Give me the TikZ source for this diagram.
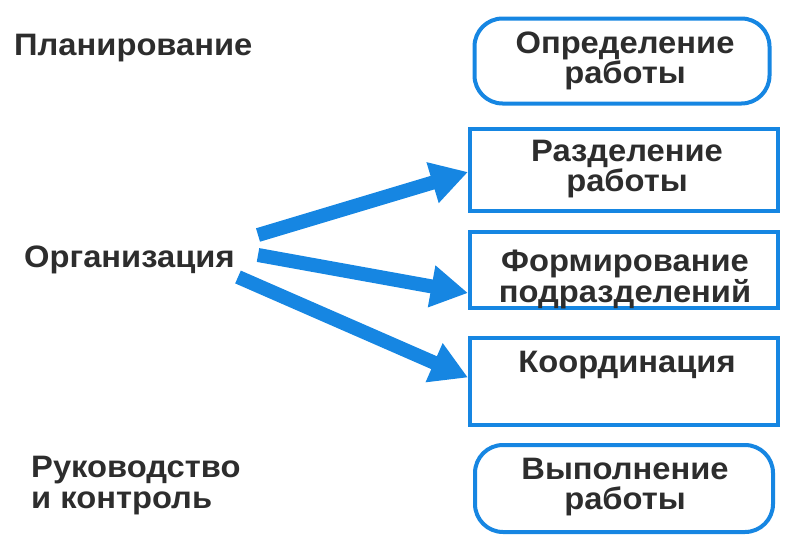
\documentclass[tikz,border=0pt]{standalone}
\usepackage{fontspec}
\setmainfont{Liberation Sans}[FakeStretch=1.055]
\usetikzlibrary{arrows.meta,calc}
\definecolor{bl}{RGB}{22,134,226}
\definecolor{ink}{RGB}{45,45,45}
\tikzset{
  txt/.style={font=\fontsize{31}{30}\selectfont\bfseries, text=ink, inner sep=0pt, align=center},
  lbl/.style={font=\fontsize{31}{31}\selectfont\bfseries, text=ink, inner sep=0pt, align=left},
  box/.style={draw=bl, line width=4pt, inner sep=0pt},
  rbox/.style={box, rounded corners=28pt},
  bigarrow/.style={draw=bl, line width=14pt, -{Triangle[length=37pt, width=40pt]}}
}
\begin{document}
\begin{tikzpicture}[x=1pt,y=1pt]
\useasboundingbox (0,0) rectangle (800,-554);
% left labels
\node[lbl, anchor=base west] (plan) at (14,-55) {Планирование};
\node[lbl, anchor=base west] (org) at (24,-267) {Организация};
\node[lbl, anchor=north west] (ruk) at (31,-456) {Руководство\\и контроль};
% boxes
\node[rbox, minimum width=295pt, minimum height=85pt] (b1) at (622,-61) {};
\node[box, minimum width=308pt, minimum height=82pt] (b2) at (624,-170) {};
\node[box, minimum width=308pt, minimum height=76pt] (b3) at (624,-270) {};
\node[box, minimum width=308pt, minimum height=87pt] (b4) at (624,-381.5) {};
\node[rbox, minimum width=298pt, minimum height=87pt] (b5) at (624,-488.5) {};
% box texts
\node[txt, anchor=north] (t1) at (625,-32) {Определение\\работы};
\node[txt, anchor=north, font=\fontsize{31}{28}\selectfont\bfseries] (t2) at (627,-140) {Разделение\\работы};
\node[txt, anchor=north, font=\fontsize{31}{26}\selectfont\bfseries] (t3) at (625,-250) {Формирование\\подразделений};
\node[txt, anchor=base] (t4) at (627,-372) {Координация};
\node[txt, anchor=north] (t5) at (625,-458) {Выполнение\\работы};
% arrows
\coordinate (s1) at (258,-235);
\coordinate (s2) at (258,-255);
\coordinate (s3) at (238,-277);
\draw[bigarrow] (s1) -- ($(b2.west)+(0,-2)$);
\draw[bigarrow] (s2) -- ($(b3.west)+(0,-23)$);
\draw[bigarrow] (s3) -- ($(b4.west)+(0,4)$);
\end{tikzpicture}
\end{document}
